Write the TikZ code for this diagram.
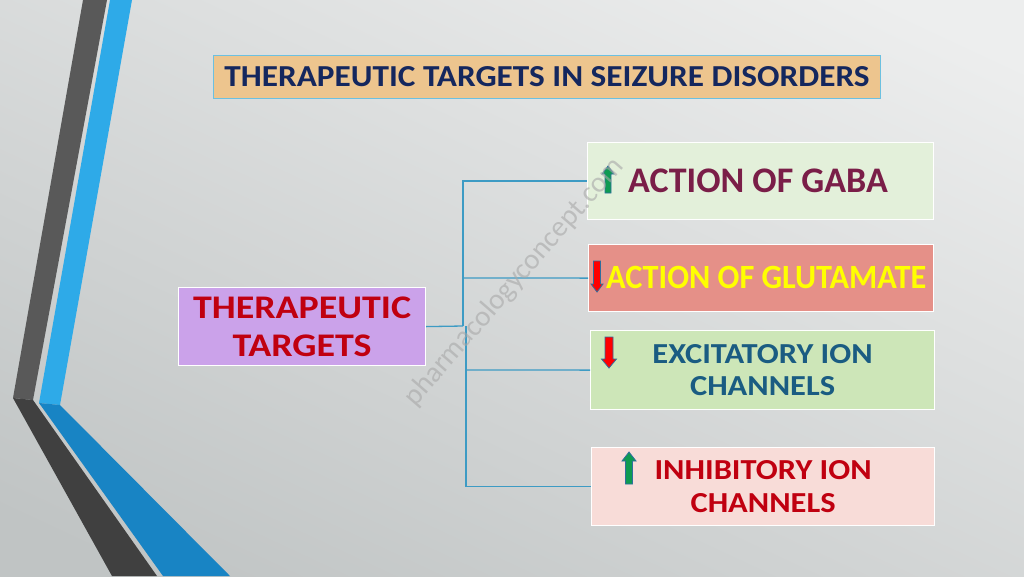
\documentclass[tikz,border=0pt]{standalone}
\usepackage{fontspec}
\setmainfont{Carlito}
\newfontfamily\titlef[FakeStretch=1.09]{Carlito}
\newfontfamily\rootf[FakeStretch=1.15]{Carlito}
\newfontfamily\chanf[FakeStretch=1.12]{Carlito}
\newfontfamily\gluf[FakeStretch=0.95]{Carlito}
\usetikzlibrary{shadings}
\definecolor{bgA}{HTML}{EDEEEE}
\definecolor{bgB}{HTML}{C0C4C4}
\definecolor{darkA}{HTML}{595959}
\definecolor{darkB}{HTML}{404040}
\definecolor{blueA}{HTML}{2EAAE8}
\definecolor{blueB}{HTML}{1884C4}
\definecolor{titlefill}{HTML}{EDC58E}
\definecolor{titleline}{HTML}{6CC0E0}
\definecolor{navy}{HTML}{14275E}
\definecolor{lav}{HTML}{CBA2EA}
\definecolor{tred}{HTML}{C00010}
\definecolor{gabafill}{HTML}{E3F0DA}
\definecolor{maroon}{HTML}{7A1E48}
\definecolor{glufill}{HTML}{E59088}
\definecolor{glutext}{HTML}{FFFF00}
\definecolor{excfill}{HTML}{CDE6B8}
\definecolor{exctext}{HTML}{1A5C82}
\definecolor{inhfill}{HTML}{F8DCD8}
\definecolor{conn}{HTML}{3D9BC4}
\definecolor{agreen}{HTML}{0E9A52}
\definecolor{ared}{HTML}{FF0000}
\definecolor{aline}{HTML}{2F6E9E}
\definecolor{wmark}{HTML}{A8A8A8}
\tikzset{
  box/.style={draw=white, line width=1.2pt, anchor=north west, inner sep=0pt, align=center, font=\bfseries},
  link/.style={draw=conn, line width=1.3pt},
  barrow/.style={line width=0.8pt, draw=aline},
}
% up arrow: cx, top, bottom, shaft half-width, head half-width, head length, colour
\newcommand\UpArrow[7]{\filldraw[barrow, fill=#7] (#1-#4,#3) -- (#1-#4,#2+#6) -- (#1-#5,#2+#6) -- (#1,#2) -- (#1+#5,#2+#6) -- (#1+#4,#2+#6) -- (#1+#4,#3) -- cycle;}
\newcommand\DownArrow[7]{\filldraw[barrow, fill=#7] (#1-#4,#2) -- (#1-#4,#3-#6) -- (#1-#5,#3-#6) -- (#1,#3) -- (#1+#5,#3-#6) -- (#1+#4,#3-#6) -- (#1+#4,#2) -- cycle;}
\begin{document}
\begin{tikzpicture}[x=1pt,y=-1pt]
\useasboundingbox (0,0) rectangle (1024,576);
% background
\shade[shading=axis, top color=bgA, bottom color=bgB, shading angle=-25] (-60,-60) rectangle (1084,636);
% decorative stripes
\fill[darkA] (83,0) -- (107,0) -- (33,400) -- (13,398) -- cycle;
\fill[darkB] (13,398) -- (33,400) -- (157,576) -- (112,576) -- cycle;
\fill[blueA] (110,0) -- (132,0) -- (60,405) -- (39,403) -- cycle;
\fill[blueB] (39,403) -- (60,405) -- (230,576) -- (163,576) -- cycle;
% title
\node[box, draw=titleline, line width=1pt, fill=titlefill, minimum width=667pt, minimum height=43pt, text=navy,
      font=\titlef\bfseries\fontsize{30.5}{34}\selectfont] (title) at (213,55) {THERAPEUTIC TARGETS IN SEIZURE DISORDERS};
% root
\node[box, fill=lav, minimum width=247pt, minimum height=78pt, text=tred,
      font=\rootf\bfseries\fontsize{33}{38}\selectfont] (root) at (178,287) {THERAPEUTIC\\TARGETS};
% targets
\node[box, fill=gabafill, minimum width=346pt, minimum height=77pt] (gaba) at (587,142) {};
\node[text=maroon, font=\bfseries\fontsize{36}{40}\selectfont, anchor=west, inner sep=0pt] (gabat) at (628,181) {ACTION OF GABA};
\node[box, fill=glufill, minimum width=345pt, minimum height=67pt] (glu) at (588,244) {};
\node[text=glutext, font=\gluf\bfseries\fontsize{34}{38}\selectfont, anchor=west, inner sep=0pt] (glut) at (606,277) {ACTION OF GLUTAMATE};
\node[box, fill=excfill, minimum width=344pt, minimum height=79pt, text=exctext,
      font=\chanf\bfseries\fontsize{29}{32.5}\selectfont] (exc) at (590,330) {EXCITATORY ION\\CHANNELS};
\node[box, fill=inhfill, minimum width=343pt, minimum height=78pt, text=tred,
      font=\chanf\bfseries\fontsize{29}{32.5}\selectfont] (inh) at (591,447) {INHIBITORY ION\\CHANNELS};
% connectors
\coordinate (j1) at (463,326);
\draw[link] (root.east) -- (j1);
\draw[link] (j1) |- (gaba.west);
\draw[link] (466,326) |- (inh.west);
\draw[link] (463,278) -- (glu.west);
\draw[link] (466,370) -- (exc.west);
% block arrows
\UpArrow{608}{166}{193}{3}{6}{8}{agreen}
\DownArrow{597}{261}{292}{3.5}{6}{8}{ared}
\DownArrow{609}{337}{368}{4}{7.5}{9}{ared}
\UpArrow{629}{452}{484}{3.5}{7}{9}{agreen}
% watermark (on top)
\node[rotate=49, text=wmark, opacity=0.6, font=\fontsize{29}{32}\selectfont] (wm) at (514,282) {pharmacologyconcept.com};
\end{tikzpicture}
\end{document}
